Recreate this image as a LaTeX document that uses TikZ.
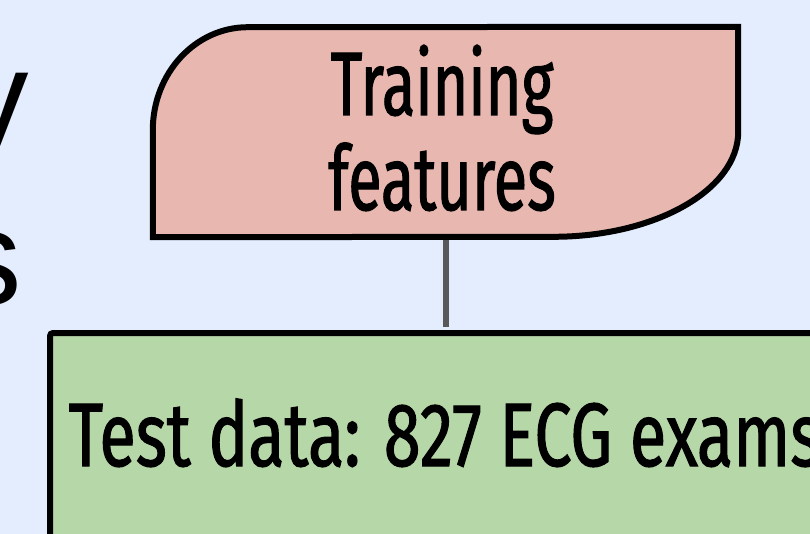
\documentclass[tikz,border=0pt]{standalone}
\usepackage{fontspec}
\usepackage{xcolor}
\newfontfamily\condfont{Fira Sans}[FakeStretch=0.68,FakeBold=1.2]
\newfontfamily\wideconfont{Fira Sans}[FakeStretch=0.74,FakeBold=1.2]
\newfontfamily\sidefont{Liberation Sans}
\usetikzlibrary{positioning,calc,backgrounds}
\definecolor{bgblue}{HTML}{E3EDFD}
\definecolor{featpink}{HTML}{E8B8B0}
\definecolor{testgreen}{HTML}{B6D7A8}
\definecolor{linkgrey}{HTML}{595959}

\begin{document}
\begin{tikzpicture}[
  x=1pt,y=1pt,
  lbl/.style={font=\condfont\fontsize{90}{95}\selectfont,align=center,inner sep=0pt},
  side/.style={font=\sidefont\fontsize{135}{135}\selectfont,inner sep=0pt,anchor=base east},
  featbox/.style={draw=black,line width=6pt,fill=featpink},
  dat/.style={draw=black,line width=6pt,fill=testgreen,rounded corners=3pt,inner sep=0pt},
  datlbl/.style={font=\wideconfont\fontsize{90}{95}\selectfont,inner sep=0pt},
  link/.style={draw=linkgrey,line width=6pt,shorten <=3pt,shorten >=3pt}
]
\useasboundingbox (0,0) rectangle (810,-534);
\clip (0,0) rectangle (810,-534);
\fill[bgblue] (0,0) rectangle (810,-534);

% cut-off letters at the left edge
\node[side] (cuty) at (29,-145) {y};
\node[side] (cuts) at (22,-305) {s};

% training features
\node[minimum width=585pt,minimum height=210pt,inner sep=0pt] (feat) at (445.5,-132) {};
\draw[featbox] (feat.south west) -- ++(0,107)
  arc[start angle=180,end angle=90,x radius=95pt,y radius=103pt]
  -- (feat.north east) -- ++(0,-105)
  arc[start angle=0,end angle=-90,x radius=185pt,y radius=105pt] -- cycle;
\node[lbl,anchor=base] (featlbl) at (442,-210) {Training\\features};

% test data
\node[dat,minimum width=796pt,minimum height=206pt,anchor=north west] (test) at (47,-330) {};
\node[datlbl,anchor=base] (testlbl) at (445,-466) {Test data: 827 ECG exams};

\draw[link] (feat.south) -- (test.north -| feat.south);
\end{tikzpicture}
\end{document}
